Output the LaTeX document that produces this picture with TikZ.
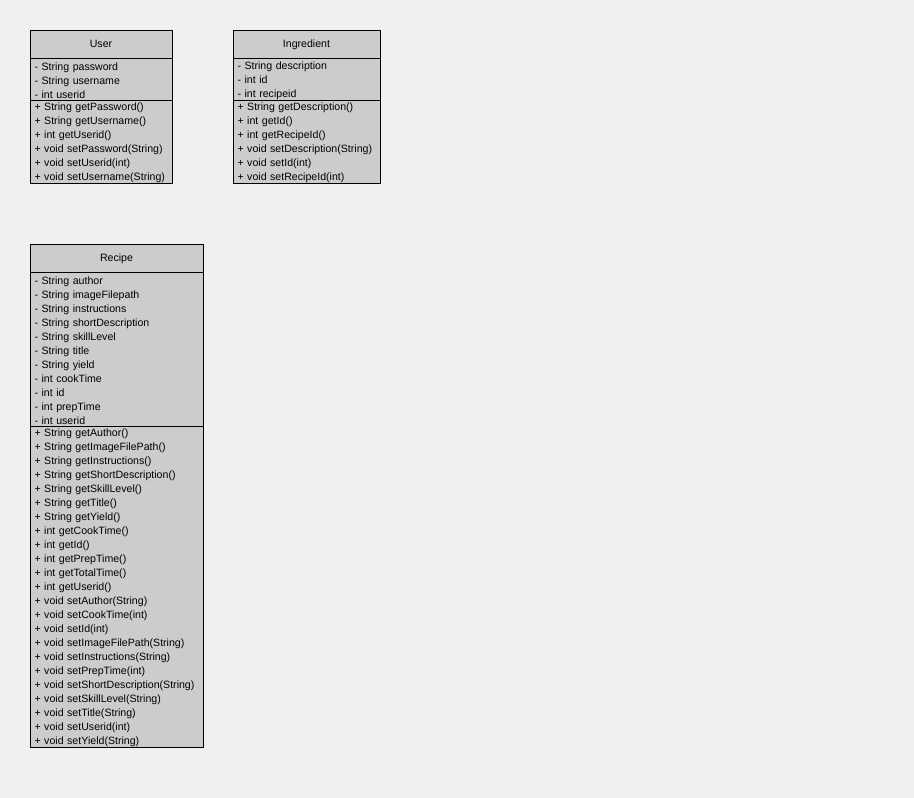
\documentclass[tikz,border=0pt]{standalone}
\usepackage{fontspec}
\setmainfont{Liberation Sans}
\usetikzlibrary{positioning}
\definecolor{canvas}{RGB}{240,240,240}
\definecolor{boxgray}{RGB}{204,204,204}
\newcommand\classfont{\fontsize{10.6}{14}\selectfont\hyphenpenalty=10000\relax\exhyphenpenalty=10000\relax}
\newcommand\topstrut{\rule{0pt}{10.4pt}}

\begin{document}
\begin{tikzpicture}[x=1pt, y=-1pt,
    part/.style = {draw, fill=boxgray, line width=0.9pt, outer sep=0pt, inner xsep=4.5pt, inner ysep=0pt,
                   font=\classfont, align=left, execute at begin node=\topstrut},
    head/.style = {part, align=center, minimum height=28pt, text height=8pt, text depth=2pt,
                   execute at begin node={}}]
      \fill[canvas] (0,0) rectangle (914,798);
      \useasboundingbox (0,0) rectangle (914,798);

      % User
      \node[head, anchor=north west, text width=133pt] (userhead) at (30,30) {User};
      \node[part, below=0pt of userhead, text width=133pt, minimum height=42pt] (userattr)
        {- String password\\- String username\\- int userid};
      \node[part, below=0pt of userattr, text width=133pt, minimum height=83pt] (userops)
        {+ String getPassword()\\+ String getUsername()\\+ int getUserid()\\
         + void setPassword(String)\\+ void setUserid(int)\\+ void setUsername(String)};

      % Ingredient
      \node[head, anchor=north west, text width=138pt] (inghead) at (233,30) {Ingredient};
      \node[part, below=0pt of inghead, text width=138pt, minimum height=42pt] (ingattr)
        {- String description\\- int id\\- int recipeid};
      \node[part, below=0pt of ingattr, text width=138pt, minimum height=83pt] (ingops)
        {+ String getDescription()\\+ int getId()\\+ int getRecipeId()\\
         + void setDescription(String)\\+ void setId(int)\\+ void setRecipeId(int)};

      % Recipe
      \node[head, anchor=north west, text width=164pt] (recipehead) at (30,244) {Recipe};
      \node[part, below=0pt of recipehead, text width=164pt, minimum height=154pt] (recipeattr)
        {- String author\\- String imageFilepath\\- String instructions\\
         - String shortDescription\\- String skillLevel\\- String title\\
         - String yield\\- int cookTime\\- int id\\- int prepTime\\- int userid};
      \node[part, below=0pt of recipeattr, text width=164pt, minimum height=321pt] (recipeops)
        {+ String getAuthor()\\+ String getImageFilePath()\\+ String getInstructions()\\
         + String getShortDescription()\\+ String getSkillLevel()\\+ String getTitle()\\
         + String getYield()\\+ int getCookTime()\\+ int getId()\\+ int getPrepTime()\\
         + int getTotalTime()\\+ int getUserid()\\+ void setAuthor(String)\\
         + void setCookTime(int)\\+ void setId(int)\\+ void setImageFilePath(String)\\
         + void setInstructions(String)\\+ void setPrepTime(int)\\
         + void setShortDescription(String)\\+ void setSkillLevel(String)\\
         + void setTitle(String)\\+ void setUserid(int)\\+ void setYield(String)};
\end{tikzpicture}
\end{document}
